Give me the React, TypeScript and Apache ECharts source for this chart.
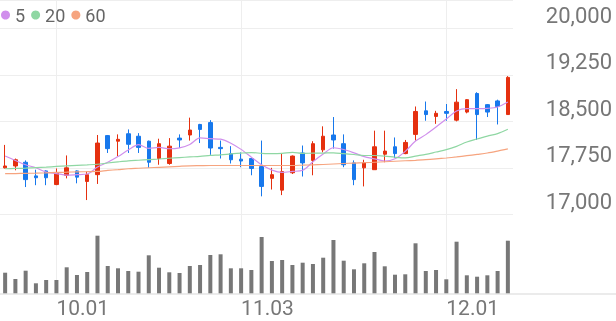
import React, { useEffect, useRef } from "react";
import * as echarts from "echarts";

// Trading days (2025)
const dates = [
  "2025-09-24", "2025-09-25", "2025-09-26", "2025-09-29", "2025-09-30",
  "2025-10-01", "2025-10-02", "2025-10-10", "2025-10-13", "2025-10-14",
  "2025-10-15", "2025-10-16", "2025-10-17", "2025-10-20", "2025-10-21",
  "2025-10-22", "2025-10-23", "2025-10-24", "2025-10-27", "2025-10-28",
  "2025-10-29", "2025-10-30", "2025-10-31", "2025-11-03", "2025-11-04",
  "2025-11-05", "2025-11-06", "2025-11-07", "2025-11-10", "2025-11-11",
  "2025-11-12", "2025-11-13", "2025-11-14", "2025-11-17", "2025-11-18",
  "2025-11-19", "2025-11-20", "2025-11-21", "2025-11-24", "2025-11-25",
  "2025-11-26", "2025-11-27", "2025-11-28", "2025-12-01", "2025-12-02",
  "2025-12-03", "2025-12-04", "2025-12-05", "2025-12-08", "2025-12-09",
];

const opens = [
  17750, 17780, 17840, 17620, 17700, 17480, 17630, 17700, 17530, 17640,
  18270, 18180, 18300, 18260, 18180, 17900, 17820, 18230, 18280, 18450,
  18480, 18080, 17980, 17890, 17900, 17770, 17580, 17390, 17670, 17990,
  17870, 18040, 18280, 18140, 17830, 17750, 17720, 17970, 18090, 17980,
  18290, 18670, 18580, 18660, 18520, 18650, 18950, 18770, 18830, 18610,
];
const closes = [
  17780, 17880, 17560, 17590, 17590, 17670, 17750, 17600, 17640, 18150,
  18060, 18210, 18130, 18080, 17840, 18140, 18100, 18200, 18360, 18370,
  18070, 18060, 17880, 17860, 17740, 17450, 17640, 17690, 17940, 17830,
  18140, 18260, 18200, 17800, 17560, 17830, 18090, 18020, 17980, 18160,
  18660, 18610, 18630, 18630, 18810, 18850, 18610, 18650, 18740, 19210,
];
const lows = [
  17740, 17710, 17440, 17470, 17470, 17470, 17580, 17500, 17230, 17490,
  17990, 17940, 17990, 17990, 17750, 17800, 17800, 18070, 18190, 18150,
  17960, 17900, 17820, 17760, 17630, 17290, 17400, 17310, 17650, 17610,
  17630, 18000, 18060, 17760, 17470, 17450, 17720, 17840, 17910, 17970,
  18190, 18510, 18460, 18510, 18500, 18630, 18200, 18570, 18450, 18610,
];
const highs = [
  18120, 17900, 17870, 17720, 17710, 17740, 17950, 17710, 17690, 18280,
  18280, 18290, 18370, 18310, 18190, 18220, 18230, 18290, 18560, 18460,
  18520, 18190, 18100, 18000, 17910, 18190, 17750, 17990, 17950, 18110,
  18180, 18420, 18570, 18290, 17870, 17880, 18350, 18350, 18240, 18200,
  18740, 18820, 18670, 18780, 19020, 18860, 18970, 18780, 18850, 19230,
];
const volumes = [
  213000, 150000, 233000, 107000, 140000, 140000, 267000, 190000, 220000, 583000,
  280000, 257000, 230000, 223000, 387000, 263000, 217000, 210000, 280000, 290000,
  390000, 397000, 257000, 257000, 240000, 570000, 330000, 340000, 290000, 313000,
  300000, 363000, 540000, 333000, 247000, 307000, 420000, 277000, 193000, 197000,
  507000, 230000, 240000, 147000, 523000, 187000, 173000, 187000, 230000, 533000,
];
const ma5 = [
  17941, 17869, 17799, 17751, 17680, 17658, 17632, 17640, 17650, 17762,
  17840, 17932, 18038, 18126, 18064, 18080, 18058, 18072, 18128, 18234,
  18220, 18212, 18148, 18048, 17922, 17798, 17714, 17676, 17692, 17710,
  17848, 17972, 18074, 18046, 17992, 17930, 17896, 17860, 17896, 18016,
  18182, 18286, 18408, 18538, 18668, 18706, 18706, 18710, 18732, 18812,
];
const ma20 = [
  17735, 17740, 17745, 17753, 17761, 17772, 17782, 17790, 17798, 17808,
  17828, 17846, 17862, 17872, 17882, 17893, 17905, 17916, 17926, 17935,
  17950, 17959, 17975, 17988, 17996, 17985, 17979, 17984, 17999, 17983,
  17987, 17989, 17993, 17979, 17965, 17949, 17949, 17940, 17921, 17910,
  17940, 17967, 18005, 18043, 18097, 18167, 18215, 18263, 18303, 18372,
];
const ma60 = [
  17655, 17658, 17661, 17664, 17669, 17676, 17680, 17685, 17688, 17692,
  17708, 17721, 17735, 17743, 17751, 17759, 17767, 17775, 17782, 17785,
  17788, 17788, 17788, 17788, 17788, 17788, 17788, 17788, 17788, 17793,
  17799, 17804, 17812, 17820, 17827, 17833, 17840, 17848, 17856, 17864,
  17872, 17881, 17894, 17909, 17926, 17946, 17967, 17989, 18021, 18057,
];
const priceTicks = [17000, 17750, 18500, 19250, 20000];
const maNames = ["5", "20", "60"];

const UP = "#e5300f";
const DOWN = "#1778ec";
const MA_COLORS = ["#d08fec", "#8fd7a3", "#f6a47f"];
const GRID_LINE = "#eeeeee";
const LABEL = "#777777";
const FONT = "Roboto, 'Noto Sans', sans-serif";

export default function App() {
  const ref = useRef<HTMLDivElement>(null);

  useEffect(() => {
    if (!ref.current) return;
    const chart = echarts.init(ref.current, undefined, { renderer: "svg" });

    const monthStarts = dates.filter(
      (d, i) => i > 0 && d.slice(5, 7) !== dates[i - 1].slice(5, 7)
    );
    const isMonthStart = (idx: number) =>
      idx > 0 && dates[idx].slice(5, 7) !== dates[idx - 1].slice(5, 7);
    const fmtDate = (v: string) => `${v.slice(5, 7)}.${v.slice(8, 10)}`;

    const vLines = {
      silent: true,
      symbol: ["none", "none"],
      label: { show: false },
      emphasis: { disabled: true },
      lineStyle: { color: GRID_LINE, width: 1, type: "solid" },
      z: 1,
      data: monthStarts.map((d) => ({ xAxis: d })),
    };

    const step = priceTicks[1] - priceTicks[0];
    const priceMin = priceTicks[0];
    // price pane extends a little above the top tick (to the top of the page)
    const priceMax = priceTicks[priceTicks.length - 1] + 459;

    chart.setOption({
      animation: false,
      textStyle: { fontFamily: FONT },
      legend: {
        data: maNames,
        left: 1,
        top: 6,
        padding: 0,
        icon: "circle",
        itemWidth: 9,
        itemHeight: 9,
        itemGap: 6,
        textStyle: { color: "#666666", fontSize: 18, fontFamily: FONT },
        selectedMode: false,
      },
      grid: [
        { left: 0, width: 513, top: -2, height: 216.3 },
        { left: 0, width: 513, top: 214.3, height: 79.7 },
      ],
      xAxis: [
        {
          type: "category",
          gridIndex: 0,
          data: dates,
          boundaryGap: true,
          axisLine: { show: false },
          axisTick: { show: false },
          axisLabel: { show: false },
          splitLine: { show: false },
        },
        {
          type: "category",
          gridIndex: 1,
          data: dates,
          boundaryGap: true,
          axisLine: { show: false },
          axisTick: { show: false },
          splitLine: { show: false },
          axisLabel: {
            interval: (idx: number) => isMonthStart(idx),
            formatter: (v: string) => fmtDate(v),
            align: "left",
            margin: 3,
            fontSize: 21,
            color: LABEL,
            fontFamily: FONT,
          },
        },
      ],
      yAxis: [
        {
          type: "value",
          gridIndex: 0,
          position: "right",
          min: priceMin,
          max: priceMax,
          interval: step,
          axisLine: { show: false },
          axisTick: { show: false },
          splitLine: { show: true, lineStyle: { color: GRID_LINE, width: 1 } },
          axisLabel: {
            showMaxLabel: false,
            showMinLabel: true,
            align: "right",
            verticalAlign: "bottom",
            lineHeight: 26,
            margin: 99,
            fontSize: 22,
            color: LABEL,
            fontFamily: FONT,
            formatter: (v: number) => v.toLocaleString("en-US"),
          },
        },
        {
          type: "value",
          gridIndex: 1,
          min: 0,
          max: 797000,
          show: false,
          splitLine: { show: false },
        },
      ],
      series: [
        {
          type: "candlestick",
          name: "price",
          xAxisIndex: 0,
          yAxisIndex: 0,
          barWidth: 4,
          z: 3,
          data: dates.map((_, i) => [opens[i], closes[i], lows[i], highs[i]]),
          itemStyle: {
            color: UP,
            color0: DOWN,
            borderColor: UP,
            borderColor0: DOWN,
            borderWidth: 1,
          },
          markLine: vLines,
        },
        ...[ma5, ma20, ma60].map((arr, k) => ({
          type: "line",
          name: maNames[k],
          xAxisIndex: 0,
          yAxisIndex: 0,
          data: arr,
          showSymbol: false,
          smooth: 0.3,
          z: 4,
          lineStyle: { color: MA_COLORS[k], width: 1.2 },
          itemStyle: { color: MA_COLORS[k] },
        })),
        {
          type: "bar",
          name: "volume",
          xAxisIndex: 1,
          yAxisIndex: 1,
          data: volumes,
          barWidth: 4,
          z: 3,
          itemStyle: { color: "#777777" },
          markLine: vLines,
        },
      ],
      graphic: [
        {
          type: "line",
          silent: true,
          z: 10,
          shape: { x1: 0, y1: 294, x2: 616, y2: 294 },
          style: { stroke: "#e4e4e4", lineWidth: 1.5 },
        },
      ],
    });

    return () => chart.dispose();
  }, []);

  return (
    <div
      ref={ref}
      style={{ position: "fixed", left: 0, top: 0, width: 616, height: 321 }}
    />
  );
}
